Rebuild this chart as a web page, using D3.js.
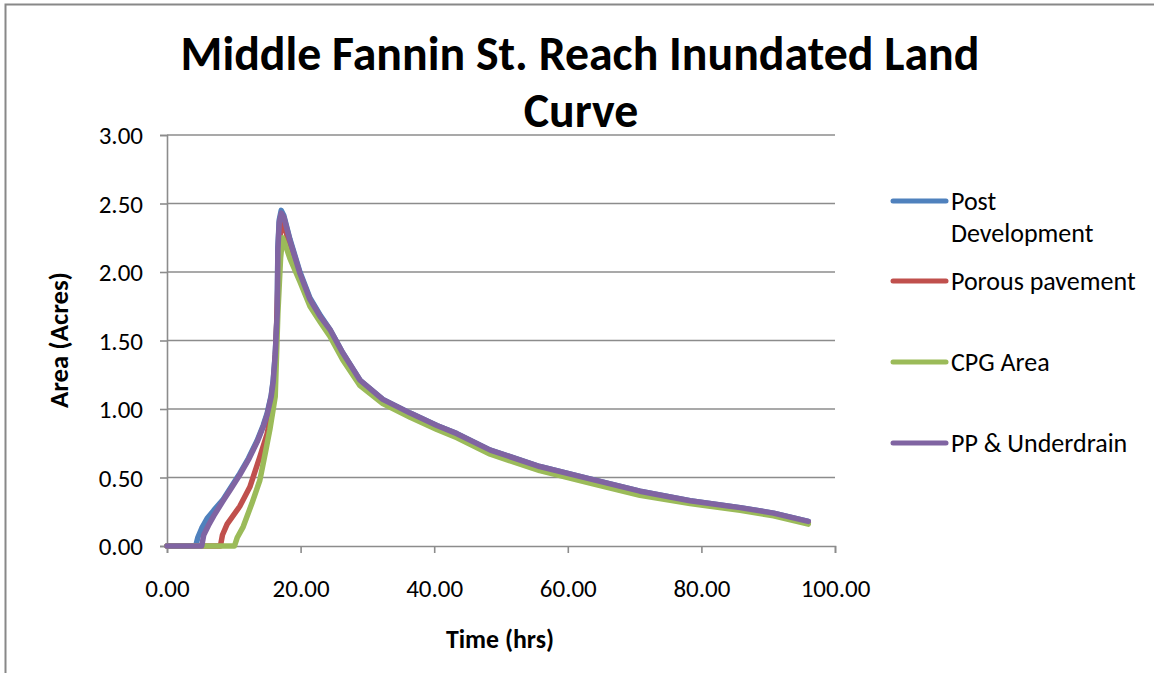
<!DOCTYPE html>
<html>
<head>
<meta charset="utf-8">
<script src="https://cdn.jsdelivr.net/npm/d3@7"></script>
<style>
  html, body { margin: 0; padding: 0; background: #fff; }
  svg { display: block; }
  text { font-family: Carlito, Calibri, Lato, "Open Sans", sans-serif; fill: #000; }
</style>
</head>
<body>
<svg id="chart" width="1154" height="673"></svg>
<script>
// ---------- DATA ----------
const titleLines = ["Middle Fannin St. Reach Inundated Land", "Curve"];
const xTicks = [0, 20, 40, 60, 80, 100];
const yTicks = [0, 0.5, 1.0, 1.5, 2.0, 2.5, 3.0];
const xLabel = "Time (hrs)";
const yLabel = "Area (Acres)";
const seriesNames = ["Post Development", "Porous pavement", "CPG Area", "PP & Underdrain"];
const seriesColors = ["#4F81BD", "#C0504D", "#9BBB59", "#8064A2"];

// Post Development
const postDevTime = [0, 4.3, 4.6, 5.2, 6.0, 7.0, 8.4, 9.6, 10.9, 12.2, 13.5, 14.4, 15.0, 15.6, 15.9, 16.2, 16.5, 16.6, 16.8, 17.1,
  17.5, 18.4, 19.9, 21.4, 23.0, 24.4, 26.3, 28.9, 32.3, 36.4, 40.4, 43.4, 48.4, 55.8, 63.3, 70.8, 78.3, 85.8, 90.8, 96.0];
const postDevArea = [0, 0, 0.06, 0.13, 0.20, 0.26, 0.34, 0.43, 0.53, 0.64, 0.77, 0.88, 0.97, 1.10, 1.21, 1.40, 1.70, 2.18, 2.38, 2.45,
  2.41, 2.24, 2.00, 1.81, 1.68, 1.58, 1.41, 1.21, 1.07, 0.97, 0.88, 0.82, 0.70, 0.58, 0.49, 0.40, 0.33, 0.28, 0.24, 0.18];

// Porous pavement
const porousTime = [0, 8.0, 8.3, 9.0, 10.9, 12.4, 13.9, 15.0, 15.6, 16.0, 16.3, 16.6, 16.9, 17.2,
  17.6, 18.4, 19.9, 21.4, 23.0, 24.4, 26.3, 28.9, 32.3, 36.4, 40.4, 43.4, 48.4, 55.8, 63.3, 70.8, 78.3, 85.8, 90.8, 96.0];
const porousArea = [0, 0, 0.08, 0.16, 0.29, 0.43, 0.65, 0.82, 0.98, 1.20, 1.45, 1.90, 2.25, 2.38,
  2.33, 2.19, 1.97, 1.79, 1.66, 1.56, 1.39, 1.19, 1.06, 0.96, 0.87, 0.81, 0.69, 0.57, 0.48, 0.39, 0.32, 0.27, 0.23, 0.17];

// CPG Area
const cpgTime = [0, 10.1, 10.5, 11.4, 12.7, 13.9, 14.8, 15.4, 16.2, 16.6, 17.0, 17.3,
  17.7, 18.4, 19.9, 21.4, 23.0, 24.4, 26.3, 28.9, 32.3, 36.4, 40.4, 43.4, 48.4, 55.8, 63.3, 70.8, 78.3, 85.8, 90.8, 96.0];
const cpgArea = [0, 0, 0.06, 0.14, 0.31, 0.48, 0.70, 0.85, 1.09, 1.70, 2.10, 2.25,
  2.20, 2.10, 1.93, 1.75, 1.63, 1.53, 1.36, 1.17, 1.04, 0.94, 0.85, 0.79, 0.67, 0.55, 0.46, 0.37, 0.31, 0.26, 0.22, 0.16];

// PP & Underdrain
const ppUdTime = [0, 5.2, 5.5, 6.2, 7.0, 8.4, 9.6, 10.9, 12.2, 13.5, 14.4, 15.0, 15.6, 15.9, 16.2, 16.5, 16.6, 16.8, 17.1,
  17.5, 18.4, 19.9, 21.4, 23.0, 24.4, 26.3, 28.9, 32.3, 36.4, 40.4, 43.4, 48.4, 55.8, 63.3, 70.8, 78.3, 85.8, 90.8, 96.0];
const ppUdArea = [0, 0, 0.08, 0.15, 0.22, 0.33, 0.42, 0.52, 0.63, 0.76, 0.87, 0.96, 1.09, 1.20, 1.39, 1.70, 2.16, 2.36, 2.43,
  2.40, 2.23, 1.99, 1.80, 1.67, 1.58, 1.41, 1.21, 1.07, 0.97, 0.88, 0.82, 0.70, 0.58, 0.49, 0.40, 0.33, 0.28, 0.24, 0.18];

const seriesTimes = [postDevTime, porousTime, cpgTime, ppUdTime];
const seriesAreas = [postDevArea, porousArea, cpgArea, ppUdArea];

// ---------- LAYOUT ----------
const svg = d3.select("#chart");
const plot = { left: 167, right: 835, top: 135, bottom: 546 };
const gridColor = "#8c8c8c";
const fontStack = 'Carlito, Calibri, Lato, "Open Sans", sans-serif';

// outer frame
svg.append("rect")
  .attr("x", 5.5).attr("y", 4.5)
  .attr("width", 1160).attr("height", 680)
  .attr("fill", "none").attr("stroke", "#888").attr("stroke-width", 2);

const x = d3.scaleLinear().domain([0, 100]).range([plot.left, plot.right]);
const y = d3.scaleLinear().domain([0, 3]).range([plot.bottom, plot.top]);

// gridlines
svg.append("g")
  .selectAll("line").data(yTicks.filter(d => d > 0)).join("line")
  .attr("x1", plot.left).attr("x2", plot.right)
  .attr("y1", d => y(d)).attr("y2", d => y(d))
  .attr("stroke", gridColor).attr("stroke-width", 1.6);

// y axis
const yAxis = svg.append("g")
  .attr("transform", `translate(${plot.left},0)`)
  .call(d3.axisLeft(y).tickValues(yTicks).tickFormat(d3.format(".2f")).tickSize(7).tickPadding(17));
// x axis
const xAxis = svg.append("g")
  .attr("transform", `translate(0,${plot.bottom})`)
  .call(d3.axisBottom(x).tickValues(xTicks).tickFormat(d3.format(".2f")).tickSize(7).tickPadding(35));

[yAxis, xAxis].forEach(g => {
  g.select(".domain").attr("stroke", gridColor).attr("stroke-width", 1.6);
  g.selectAll(".tick line").attr("stroke", gridColor).attr("stroke-width", 1.6);
  g.selectAll(".tick text").attr("font-size", 25).attr("fill", "#000")
    .style("font-family", fontStack);
});
yAxis.selectAll(".tick text").attr("dy", "0.35em");
xAxis.selectAll(".tick text").attr("dy", "0.35em");

// lines
const line = d3.line().x(d => x(d[0])).y(d => y(d[1]));
seriesNames.forEach((name, i) => {
  const pts = seriesTimes[i].map((t, j) => [t, seriesAreas[i][j]]);
  svg.append("path")
    .datum(pts)
    .attr("d", line)
    .attr("fill", "none")
    .attr("stroke", seriesColors[i])
    .attr("stroke-width", 5.5)
    .attr("stroke-linejoin", "round")
    .attr("stroke-linecap", "round");
});

// title (fit width)
function fitWidth(t, target) {
  const w = t.node().getComputedTextLength();
  const fs = parseFloat(t.attr("font-size"));
  t.attr("font-size", fs * target / w);
}
const t1 = svg.append("text").attr("x", 580).attr("y", 70)
  .attr("text-anchor", "middle").attr("font-weight", "bold").attr("font-size", 40)
  .text(titleLines[0]);
fitWidth(t1, 799);
svg.append("text").attr("x", 581).attr("y", 127)
  .attr("text-anchor", "middle").attr("font-weight", "bold")
  .attr("font-size", t1.attr("font-size"))
  .text(titleLines[1]);

// axis titles
const xt = svg.append("text").attr("x", 500).attr("y", 648)
  .attr("text-anchor", "middle").attr("font-weight", "bold").attr("font-size", 20)
  .text(xLabel);
fitWidth(xt, 108);
const yt = svg.append("text")
  .attr("transform", "translate(68,340) rotate(-90)")
  .attr("text-anchor", "middle").attr("font-weight", "bold").attr("font-size", 20)
  .text(yLabel);
fitWidth(yt, 136);

// legend
const legendY = [201, 281, 362, 443];
const legend = svg.append("g");
seriesNames.forEach((name, i) => {
  const g = legend.append("g").attr("transform", `translate(0,${legendY[i]})`);
  g.append("line").attr("x1", 893).attr("x2", 946).attr("y1", 0).attr("y2", 0)
    .attr("stroke", seriesColors[i]).attr("stroke-width", 5).attr("stroke-linecap", "round");
  const words = i === 0 ? ["Post", "Development"] : [name];
  words.forEach((w, k) => {
    g.append("text").attr("x", 951).attr("y", k * 32).attr("dy", "0.35em")
      .attr("font-size", 26).text(w);
  });
});
</script>
</body>
</html>
